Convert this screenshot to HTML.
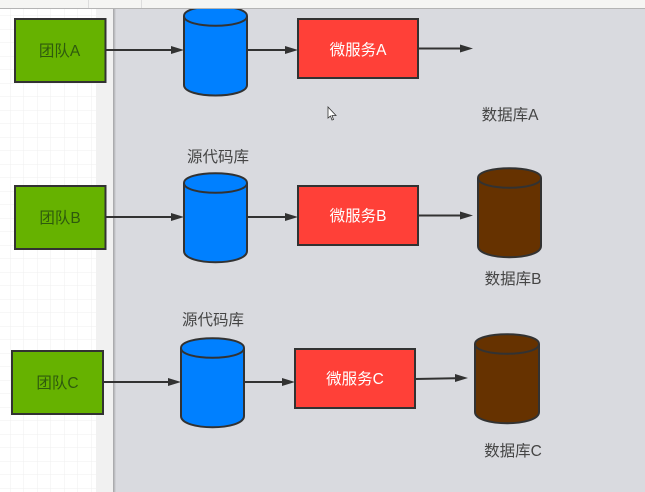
<!DOCTYPE html>
<html><head><meta charset="utf-8">
<style>
html,body{margin:0;padding:0;background:#fff}
svg{display:block}
text{font-family:"Liberation Sans","Noto Sans CJK SC",sans-serif;font-size:15.5px;text-anchor:middle}
.l{stroke:#333;stroke-width:2;fill:none}
.a{fill:#333;stroke:none}
.s{stroke:#333;stroke-width:2}
.d{fill:#444}
</style></head>
<body>
<svg width="645" height="492" viewBox="0 0 645 492" xmlns="http://www.w3.org/2000/svg">
<defs>
<pattern id="g" width="13.5" height="13.5" patternUnits="userSpaceOnUse" x="10" y="2">
<path d="M13.5 0H0V13.5" fill="none" stroke="#efefef" stroke-width="1"/>
</pattern>
<linearGradient id="sh" x1="0" x2="1" y1="0" y2="0">
<stop offset="0" stop-color="#a2a2a4"/><stop offset="1" stop-color="#d7d8dd"/>
</linearGradient>
<filter id="b" x="-5%" y="-5%" width="110%" height="110%"><feGaussianBlur stdDeviation="0.35"/></filter>
</defs>
<rect width="645" height="492" fill="#fff"/>
<g filter="url(#b)">
<rect x="0" y="9" width="96" height="483" fill="url(#g)"/>
<rect x="96" y="9" width="18" height="483" fill="#f1f1f1"/>
<rect x="114" y="9" width="531" height="483" fill="#d9dadf"/>
<rect x="113" y="9" width="3" height="483" fill="url(#sh)"/>

<!-- Team boxes -->
<g class="s" fill="#66b200">
<rect x="15" y="19" width="90.500" height="63"/>
<rect x="15" y="186" width="90.500" height="63"/>
<rect x="12" y="351" width="91" height="63"/>
</g>
<g fill="#2f5a10">
<text x="59.500" y="56">团队A</text>
<text x="60" y="223">团队B</text>
<text x="57.500" y="388">团队C</text>
</g>

<!-- Blue cylinders -->
<g class="s" fill="#0080ff">
<path d="M184 16C184 3 247 3 247 16V85C247 99 184 99 184 85Z"/>
<path d="M184 16C184 29 247 29 247 16" fill="none"/>
<path d="M184 183C184 170 247 170 247 183V251C247 266 184 266 184 251Z"/>
<path d="M184 183C184 196 247 196 247 183" fill="none"/>
<path d="M181 348C181 335 244 335 244 348V416C244 431 181 431 181 416Z"/>
<path d="M181 348C181 361 244 361 244 348" fill="none"/>
</g>
<rect x="170" y="0" width="90" height="9" fill="#f5f5f3"/>

<!-- Service boxes -->
<g class="s" fill="#ff4038">
<rect x="298" y="19" width="120" height="59"/>
<rect x="298" y="186" width="120" height="59"/>
<rect x="295" y="349" width="120" height="59"/>
</g>
<g fill="#fff">
<text x="358" y="55">微服务A</text>
<text x="358" y="221">微服务B</text>
<text x="355" y="384">微服务C</text>
</g>

<!-- Brown cylinders -->
<g class="s" fill="#663300">
<path d="M478 178C478 165 541 165 541 178V246C541 261 478 261 478 246Z"/>
<path d="M478 178C478 191 541 191 541 178" fill="none"/>
<path d="M475 344C475 331 539 331 539 344V412C539 427 475 427 475 412Z"/>
<path d="M475 344C475 357 539 357 539 344" fill="none"/>
</g>

<!-- Connectors -->
<path class="l" d="M106 50H172M247 50H286M418 48.500H461M106 217H172M247 217H286M418 215.500H461M103 382H169M244 382H283M415 379L455 378.300"/>
<g class="a">
<path d="M184 50L171 46V54Z"/>
<path d="M298 50L285 46V54Z"/>
<path d="M473 48.500L460 44.500V52.500Z"/>
<path d="M184 217L171 213V221Z"/>
<path d="M298 217L285 213V221Z"/>
<path d="M473 215.500L460 211.500V219.500Z"/>
<path d="M181 382L168 378V386Z"/>
<path d="M295 382L282 378V386Z"/>
<path d="M468 378L455 374V382Z"/>
</g>

<!-- Labels -->
<g class="d">
<text x="510" y="120">数据库A</text>
<text x="218" y="162">源代码库</text>
<text x="513" y="284">数据库B</text>
<text x="213" y="325">源代码库</text>
<text x="513" y="456">数据库C</text>
</g>

<!-- Cursor -->
<path d="M328 107V118L330.500 116L332 120L333.500 119.500L332 115.500H336Z" fill="#fff" stroke="#333" stroke-width="0.800"/>
</g>
<rect width="645" height="8" fill="#f5f5f3"/>
<rect y="8" width="645" height="1" fill="#b4b4b4"/>
<rect x="88" y="0" width="1" height="8" fill="#ddd"/>
<rect x="141" y="0" width="1" height="8" fill="#ddd"/>
</svg>
</body></html>
